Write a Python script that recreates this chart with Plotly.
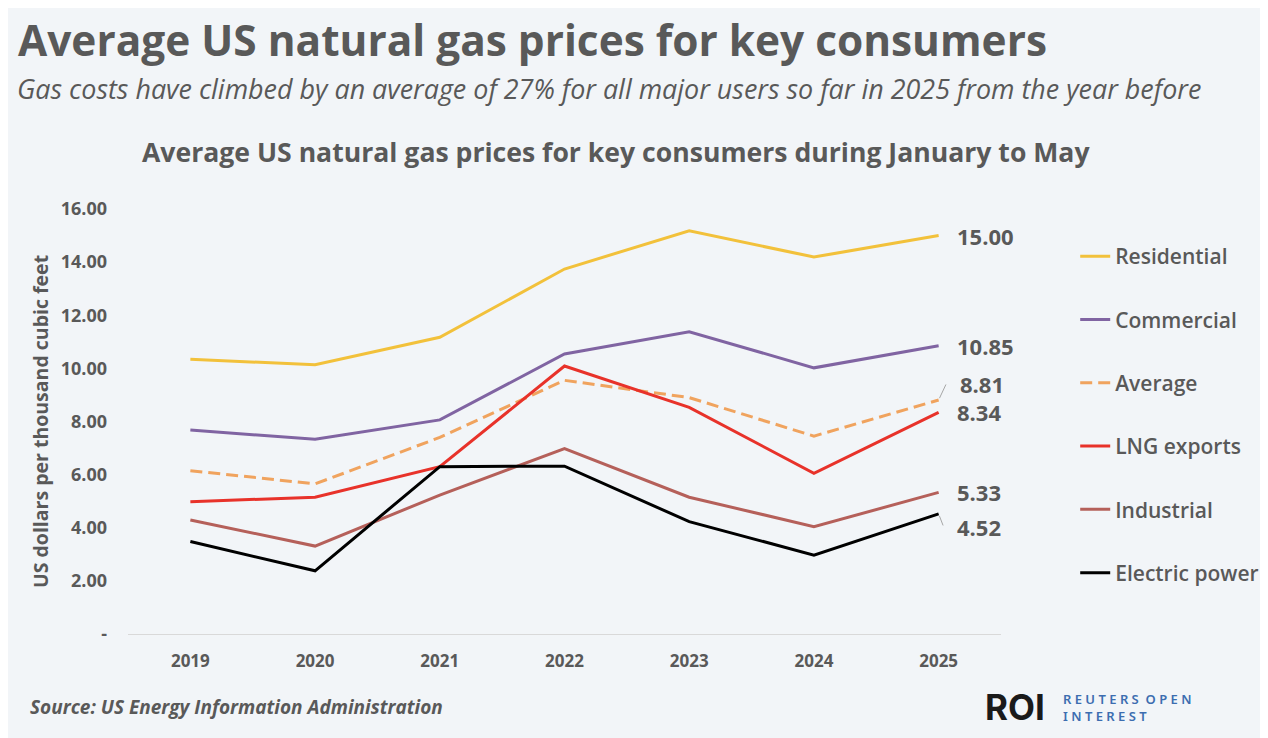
import plotly.graph_objects as go

years = ["2019", "2020", "2021", "2022", "2023", "2024", "2025"]

residential = [10.34, 10.14, 11.17, 13.74, 15.18, 14.19, 15.00]
commercial = [7.68, 7.33, 8.06, 10.54, 11.38, 10.02, 10.85]
average = [6.15, 5.65, 7.40, 9.55, 8.90, 7.45, 8.81]
lng_exports = [4.98, 5.15, 6.30, 10.09, 8.53, 6.05, 8.34]
industrial = [4.29, 3.31, 5.23, 6.98, 5.15, 4.04, 5.33]
electric_power = [3.48, 2.38, 6.30, 6.32, 4.23, 2.97, 4.52]

y_ticks = [0, 2, 4, 6, 8, 10, 12, 14, 16]
y_tick_labels = ["-", "2.00", "4.00", "6.00", "8.00", "10.00", "12.00", "14.00", "16.00"]

BG = "#F2F5F8"
TXT = "#595959"
FONT = "Open Sans"

series = [
    ("Residential", residential, "#F2C13B", "solid"),
    ("Commercial", commercial, "#8064A2", "solid"),
    ("Average", average, "#F0A35E", "12px,6px"),
    ("LNG exports", lng_exports, "#E8322A", "solid"),
    ("Industrial", industrial, "#B5605A", "solid"),
    ("Electric power", electric_power, "#000000", "solid"),
]

fig = go.Figure()
for name, vals, color, dash in series:
    fig.add_trace(go.Scatter(
        x=years, y=vals, name=name, mode="lines", legendgroup=name,
        line=dict(color=color, width=3, dash=dash),
        hovertemplate="%{x}: %{y:.2f}<extra>" + name + "</extra>",
    ))

last = len(years) - 1  # category index of 2025

# end-of-line value labels (shifts in px)
label_shift = {
    "Residential": (0, 0),
    "Commercial": (0, 0),
    "Average": (3, 16),
    "LNG exports": (0, 0),
    "Industrial": (0, 0),
    "Electric power": (0, -13),
}
for name, vals, color, dash in series:
    dx, dy = label_shift[name]
    fig.add_annotation(
        x=last, y=vals[-1], text="<b>%.2f</b>" % vals[-1],
        showarrow=False, xanchor="left", yanchor="middle",
        xshift=16 + dx, yshift=dy,
        font=dict(family=FONT, size=22, color=TXT),
    )
# small leader lines for the nudged labels
fig.add_annotation(x=last, y=average[-1], ax=8, ay=-17, text="",
                   showarrow=True, arrowhead=0, arrowwidth=1, arrowcolor="#A6A6A6",
                   standoff=2)
fig.add_annotation(x=last, y=electric_power[-1], ax=5, ay=13, text="",
                   showarrow=True, arrowhead=0, arrowwidth=1, arrowcolor="#A6A6A6",
                   standoff=2)

# titles and footer (positions given in screen pixels)
texts = [
    ("<b>Average US natural gas prices for key consumers</b>", 16, 40, 42.4, "left"),
    ("<i>Gas costs have climbed by an average of 27% for all major users so far in 2025 from the year before</i>",
     15, 89, 26.9, "left"),
    ("<b>Average US natural gas prices for key consumers during January to May</b>",
     618, 152, 26.6, "center"),
    ("<b><i>Source: US Energy Information Administration</i></b>", 28, 707, 19, "left"),
]
for t, x, y, size, anchor in texts:
    fig.add_annotation(xref="paper", yref="paper", x=(x - 128) / 876, y=(634 - y) / 425,
                       text=t, showarrow=False, xanchor=anchor, yanchor="middle",
                       font=dict(family=FONT, size=size, color=TXT))
fig.add_annotation(xref="paper", yref="paper", x=(986 - 128) / 876, y=(634 - 707) / 425,
                   text="<b>ROI</b>", showarrow=False, xanchor="left", yanchor="middle",
                   font=dict(family="Inter", size=35, color="#1A1A1A"))
fig.add_annotation(xref="paper", yref="paper", x=(1064 - 128) / 876, y=(634 - 707) / 425,
                   text="R E U T E R S  O P E N<br>I N T E R E S T", showarrow=False,
                   xanchor="left", yanchor="middle", align="left",
                   font=dict(family="Noto Sans", size=13, color="#3C6DB0", weight=600))

# the page puts the figure 8px in from the top-left, so margins are shifted by 8
fig.update_layout(
    width=1268, height=738,
    paper_bgcolor=BG, plot_bgcolor=BG,
    margin=dict(l=120, r=272, t=201, b=112),
    font=dict(family=FONT, color=TXT),
    showlegend=True,
    legend=dict(
        x=1.085, y=(634 - 236) / 425, xanchor="left", yanchor="top",
        bgcolor="rgba(0,0,0,0)", tracegroupgap=33,
        font=dict(family=FONT, size=21, color=TXT, weight=600),
        itemwidth=30,
    ),
    xaxis=dict(
        type="category", range=[-0.5, 6.5], showgrid=False, zeroline=False,
        showline=True, linecolor="#D9D9D9", linewidth=1,
        ticks="", tickfont=dict(family=FONT, size=17, color=TXT),
        tickprefix="<b>", ticksuffix="</b>", ticklabelstandoff=12,
    ),
    yaxis=dict(
        range=[0, 16], showgrid=False, zeroline=False, showline=False,
        tickvals=y_ticks, ticktext=["<b>%s</b>" % s for s in y_tick_labels],
        tickfont=dict(family=FONT, size=18, color=TXT), ticklabelstandoff=20,
        title=dict(text="<b>US dollars per thousand cubic feet</b>",
                   font=dict(family=FONT, size=19.5, color=TXT), standoff=6),
    ),
)

fig.write_html("out.html")
